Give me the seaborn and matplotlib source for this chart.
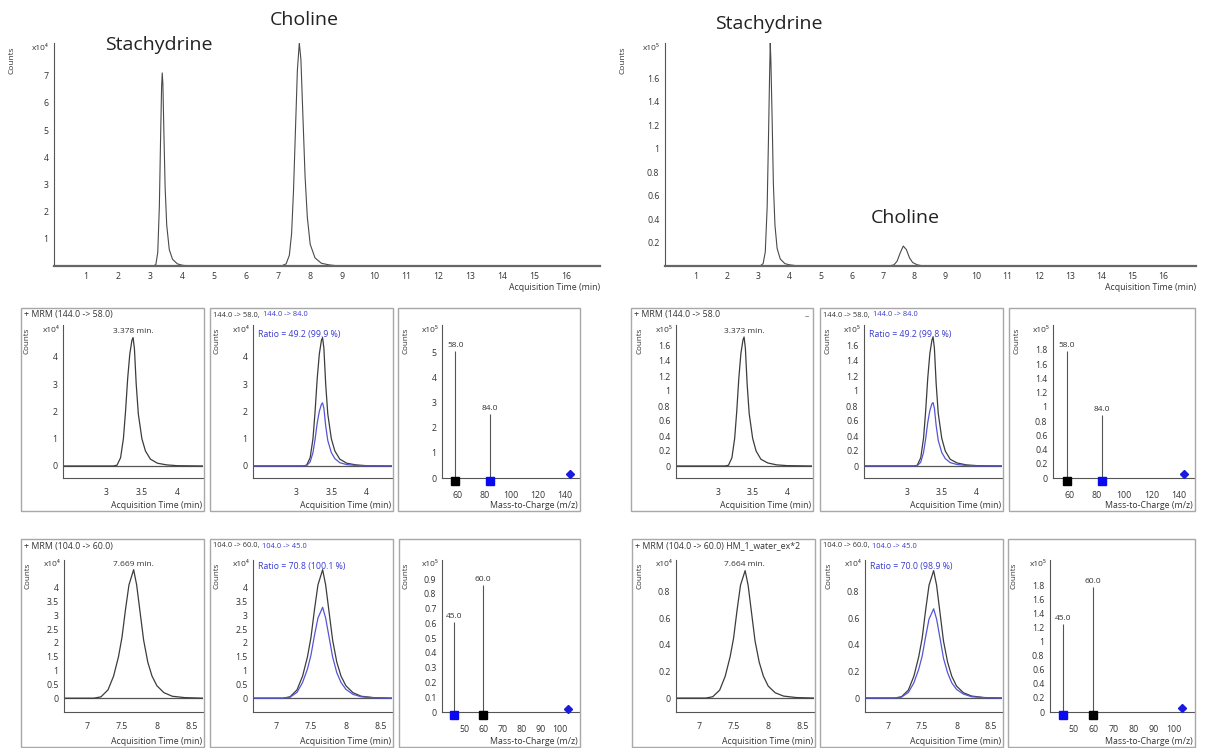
import matplotlib
matplotlib.use("Agg")
import matplotlib.pyplot as plt
from matplotlib.patches import Rectangle
from matplotlib.transforms import ScaledTranslation
import pandas as pd
import seaborn as sns

# ---------------------------------------------------------------- data
# Overview chromatograms (sample A counts x10^4, sample B counts x10^5)
tic_time_a = [0, 3.10, 3.18, 3.24, 3.29, 3.33, 3.36, 3.38, 3.40, 3.43, 3.47, 3.52, 3.60,
              3.70, 3.85, 4.0, 4.2, 7.10, 7.25, 7.35, 7.42, 7.48, 7.54, 7.60, 7.66, 7.71,
              7.77, 7.84, 7.91, 8.0, 8.15, 8.35, 8.6, 8.9, 17.05]
tic_counts_a = [0, 0, 0.05, 0.5, 2.2, 4.8, 6.6, 7.1, 6.7, 5.0, 2.9, 1.5, 0.6,
                0.25, 0.08, 0.03, 0, 0, 0.08, 0.4, 1.2, 2.8, 5.0, 7.2, 8.2, 7.6,
                5.6, 3.3, 1.8, 0.8, 0.3, 0.1, 0.04, 0, 0]
tic_time_b = [0, 3.05, 3.15, 3.22, 3.28, 3.32, 3.36, 3.38, 3.40, 3.44, 3.48, 3.53, 3.60,
              3.70, 3.85, 4.0, 4.3, 7.20, 7.35, 7.45, 7.55, 7.65, 7.75, 7.85, 7.95, 8.1,
              8.3, 17.05]
tic_counts_b = [0, 0, 0.02, 0.12, 0.5, 1.05, 1.65, 1.9, 1.75, 1.25, 0.7, 0.35, 0.15,
                0.06, 0.02, 0.01, 0, 0, 0.01, 0.04, 0.11, 0.17, 0.14, 0.07, 0.03, 0.01,
                0, 0]

# Stachydrine window: 144.0 -> 58.0 (quantifier) and 144.0 -> 84.0 (qualifier)
stach_time = [2.39, 3.10, 3.15, 3.20, 3.24, 3.27, 3.30, 3.33, 3.36, 3.376, 3.395, 3.42,
              3.45, 3.50, 3.55, 3.62, 3.72, 3.85, 4.0, 4.36]
stach_58_a = [0, 0, 0.03, 0.3, 1.0, 2.0, 3.2, 4.1, 4.6, 4.7, 4.3, 3.0,
              1.9, 1.0, 0.55, 0.25, 0.10, 0.04, 0.01, 0]
stach_84_a = [0, 0, 0.015, 0.15, 0.49, 0.98, 1.57, 2.0, 2.26, 2.31, 2.11, 1.47,
              0.93, 0.49, 0.27, 0.12, 0.05, 0.02, 0, 0]
stach_58_b = [0, 0, 0.01, 0.11, 0.37, 0.73, 1.17, 1.50, 1.68, 1.72, 1.57, 1.10,
              0.70, 0.37, 0.20, 0.09, 0.04, 0.015, 0.005, 0]
stach_84_b = [0, 0, 0.005, 0.05, 0.18, 0.36, 0.58, 0.74, 0.83, 0.846, 0.77, 0.54,
              0.34, 0.18, 0.10, 0.045, 0.02, 0.007, 0, 0]

# Choline window: 104.0 -> 60.0 (quantifier) and 104.0 -> 45.0 (qualifier)
chol_time = [6.67, 7.10, 7.20, 7.30, 7.38, 7.45, 7.50, 7.55, 7.60, 7.667, 7.71, 7.76,
             7.81, 7.87, 7.93, 8.00, 8.10, 8.22, 8.40, 8.66]
chol_60_a = [0, 0, 0.05, 0.3, 0.8, 1.5, 2.2, 3.2, 4.1, 4.65, 4.1, 3.1,
             2.1, 1.3, 0.8, 0.45, 0.2, 0.07, 0.02, 0]
chol_45_a = [0, 0, 0.035, 0.21, 0.57, 1.06, 1.56, 2.27, 2.9, 3.29, 2.9, 2.2,
             1.49, 0.92, 0.57, 0.32, 0.14, 0.05, 0.014, 0]
chol_60_b = [0, 0, 0.01, 0.06, 0.165, 0.31, 0.45, 0.66, 0.85, 0.96, 0.85, 0.64,
             0.43, 0.27, 0.165, 0.09, 0.04, 0.015, 0.004, 0]
chol_45_b = [0, 0, 0.007, 0.042, 0.115, 0.217, 0.315, 0.46, 0.595, 0.672, 0.595, 0.45,
             0.30, 0.19, 0.115, 0.065, 0.03, 0.01, 0.003, 0]

stach_rt = ["3.378", "3.373"]
chol_rt = ["7.669", "7.664"]
stach_ratio = ["49.2 (99.9 %)", "49.2 (99.8 %)"]
chol_ratio = ["70.8 (100.1 %)", "70.0 (98.9 %)"]

# MRM product-ion spectra (counts x10^5)
stach_mz = [58.0, 84.0]
stach_ms_a = [5.05, 2.55]
stach_ms_b = [1.78, 0.88]
stach_precursor = 144.0
stach_prec_ht = [0.14, 0.06]
chol_mz = [60.0, 45.0]
chol_ms_a = [0.86, 0.61]
chol_ms_b = [1.78, 1.26]
chol_precursor = 104.0
chol_prec_ht = [0.02, 0.06]

overview_xticks = list(range(1, 17))

# ---------------------------------------------------------------- style
sns.set_theme(style="white")
plt.rcParams["font.family"] = ["Open Sans", "DejaVu Sans"]
TXT = "#333333"
BLK = "#3c3c3c"
BLU = "#5555d8"
BLU_TXT = "#3a3ad0"
BOX = "#a8a8a8"
FS = 6.3

W, H = 1210, 748
fig = plt.figure(figsize=(W / 100, H / 100), dpi=100)
renderer = fig.canvas.get_renderer()


def add_ax(x0, y0, x1, y1):
    return fig.add_axes([x0 / W, 1 - y1 / H, (x1 - x0) / W, (y1 - y0) / H])


def ftext(x, y, s, **kw):
    kw.setdefault("color", TXT)
    return fig.text(x / W, 1 - y / H, s, **kw)


def fmt(v):
    return f"{v:g}"


def style_axes(ax, labelsize=FS, xpad=4.0):
    for side in ("top", "right"):
        ax.spines[side].set_visible(False)
    for side in ("left", "bottom"):
        ax.spines[side].set_color("#555555")
        ax.spines[side].set_linewidth(0.8)
    ax.tick_params(axis="both", direction="out", length=2.5, width=0.6, color="#555555",
                   labelsize=labelsize, labelcolor=TXT, pad=1.5)
    ax.tick_params(axis="x", length=3.5, pad=xpad)
    ax.set_facecolor("none")
    ax.set_xlabel("")
    ax.set_ylabel("")


def trace(ax, t, y, color, lw=0.9):
    df = pd.DataFrame({"t": t, "y": y})
    sns.lineplot(data=df, x="t", y="y", ax=ax, color=color, lw=lw,
                 sort=False, estimator=None)


# ---------------------------------------------------------------- overview chromatograms
def overview(x0, x1, t, y, ylim, yticks, exp, labels):
    ax = add_ax(x0, 43, x1, 266)
    trace(ax, t, y, "#4a4a4a", lw=0.8)
    ax.set_xlim(0, 17.05)
    ax.set_ylim(*ylim)
    style_axes(ax, labelsize=6.3, xpad=1.0)
    ax.tick_params(axis="x", length=3.0)
    ax.spines["bottom"].set_linewidth(1.6)
    ax.spines["bottom"].set_color("#666666")
    ax.set_xticks(overview_xticks)
    ax.set_yticks(yticks)
    ax.set_yticklabels([fmt(v) for v in yticks])
    ftext(x1, 288, "Acquisition Time (min)", ha="right", va="center", fontsize=6.3)
    ftext(x0 - 42, 60, "Counts", rotation=90, ha="center", va="center", fontsize=6)
    ftext(x0 - 5, 49, f"x10{exp}", ha="right", va="center", fontsize=6)
    for name, px, py in labels:
        ftext(px, py, name, ha="center", va="center", fontsize=14, color="#222222")
    return ax


overview(54, 600, tic_time_a, tic_counts_a, (0, 8.2), [1, 2, 3, 4, 5, 6, 7], "⁴",
         [("Stachydrine", 159, 45), ("Choline", 304, 20)])
overview(665, 1196, tic_time_b, tic_counts_b, (0, 1.9),
         [0.2, 0.4, 0.6, 0.8, 1.0, 1.2, 1.4, 1.6], "⁵",
         [("Stachydrine", 769, 24), ("Choline", 905, 218)])


# ---------------------------------------------------------------- detail panels
def box(x0, y0, x1, y1):
    fig.patches.append(Rectangle((x0 / W, 1 - y1 / H), (x1 - x0) / W, (y1 - y0) / H,
                                 transform=fig.transFigure, fill=False,
                                 edgecolor=BOX, lw=1.0))


def panel_frame(bx0, bx1, by0, by1, axx, axtop, axbot, exp, xlabel):
    box(bx0, by0, bx1, by1)
    ax = add_ax(axx, axtop, bx1 - 1, axbot)
    ftext(axx - 36, axtop + 16, "Counts", rotation=90, ha="center", va="center",
          fontsize=5.8)
    ftext(axx - 3, axtop + 5, f"x10{exp}", ha="right", va="center", fontsize=6)
    ftext(bx1 - 2, by1 - 6, xlabel, ha="right", va="center", fontsize=FS)
    return ax


def chrom_panel(bx0, bx1, by0, by1, axx, axtop, axbot, xlim, ylim, xticks, xticklabels,
                yticks, exp, t, series, colors):
    ax = panel_frame(bx0, bx1, by0, by1, axx, axtop, axbot, exp, "Acquisition Time (min)")
    ax.axhline(0, color="#555555", lw=0.9)
    for y, c in zip(series, colors):
        trace(ax, t, y, c)
    ax.set_xlim(*xlim)
    ax.set_ylim(*ylim)
    style_axes(ax)
    ax.set_xticks(xticks)
    ax.set_xticklabels(xticklabels)
    ax.set_yticks(yticks)
    ax.set_yticklabels([fmt(v) for v in yticks])
    return ax


def spectrum_panel(bx0, bx1, by0, by1, axx, axtop, axbot, xlim, ylim, xticks, yticks,
                   exp, mz, counts, colors, precursor, prec_ht):
    ax = panel_frame(bx0, bx1, by0, by1, axx, axtop, axbot, exp, "Mass-to-Charge (m/z)")
    ax.vlines(mz, 0, counts, color="#555555", lw=0.8)
    for m, c in zip(mz, counts):
        ax.annotate(f"{m:.1f}", (m, c), xytext=(0, 1.5), textcoords="offset points",
                    ha="center", va="bottom", fontsize=6, color=TXT)
    below = ax.transData + ScaledTranslation(0, -3 / 100, fig.dpi_scale_trans)
    for m, col in zip(mz, colors):
        ax.plot([m], [0], marker="s", ms=5.5, color=col, ls="none",
                transform=below, clip_on=False, zorder=5)
    ax.plot([precursor], [prec_ht], marker="D", ms=4, color="#1a1ae0", ls="none",
            clip_on=False, zorder=5)
    ax.set_xlim(*xlim)
    ax.set_ylim(*ylim)
    style_axes(ax, xpad=5.5)
    ax.set_xticks(xticks)
    ax.set_xticklabels([fmt(v) for v in xticks])
    ax.set_yticks(yticks)
    ax.set_yticklabels([fmt(v) for v in yticks])
    return ax


def rt_label(ax, rt, dy):
    ax.annotate(f"{rt} min.", xy=(float(rt), 1.0), xycoords=("data", "axes fraction"),
                xytext=(0, dy), textcoords="offset points", ha="center", va="center",
                fontsize=6, color=TXT, annotation_clip=False)


def two_color_header(x_black, y, black, blue):
    t = ftext(x_black, y, black, ha="left", va="center", fontsize=5.4)
    bb = t.get_window_extent(renderer=renderer)
    ftext(bb.x1 + 3, y, blue, ha="left", va="center", fontsize=5.4, color=BLU_TXT)


MID = (308, 511, 325, 478)
BOT = (539, 747, 560, 712)
st_ticks = [2.5, 3, 3.5, 4]
st_labels = ["", "3", "3.5", "4"]
ch_ticks = [7, 7.5, 8, 8.5]
ch_labels = ["7", "7.5", "8", "8.5"]

groups = [
    # left sample
    dict(cx=[(21, 204, 63), (210, 393, 253), (398, 580, 442)],
         dx=[(21, 204, 64), (210, 393, 253), (399, 580, 442)],
         st=(stach_58_a, stach_84_a), st_ylim=(-0.44, 5.16), st_yt=[0, 1, 2, 3, 4],
         st_exp="⁴", ch=(chol_60_a, chol_45_a), ch_ylim=(-0.5, 5.0),
         ch_yt=[0, 0.5, 1, 1.5, 2, 2.5, 3, 3.5, 4], ch_exp="⁴",
         st_ms=stach_ms_a, st_ms_ylim=(0, 6.1), st_ms_yt=[0, 1, 2, 3, 4, 5],
         ch_ms=chol_ms_a, ch_ms_ylim=(0, 1.03),
         ch_ms_yt=[0, 0.1, 0.2, 0.3, 0.4, 0.5, 0.6, 0.7, 0.8, 0.9],
         idx=0, st_head="+ MRM (144.0 -> 58.0)", ch_head="+ MRM (104.0 -> 60.0)"),
    # right sample
    dict(cx=[(631, 813, 676), (820, 1003, 864), (1009, 1195, 1053)],
         dx=[(632, 815, 676), (820, 1003, 865), (1008, 1195, 1050)],
         st=(stach_58_b, stach_84_b), st_ylim=(-0.16, 1.88),
         st_yt=[0, 0.2, 0.4, 0.6, 0.8, 1, 1.2, 1.4, 1.6], st_exp="⁵",
         ch=(chol_60_b, chol_45_b), ch_ylim=(-0.105, 1.04),
         ch_yt=[0, 0.2, 0.4, 0.6, 0.8], ch_exp="⁴",
         st_ms=stach_ms_b, st_ms_ylim=(0, 2.15),
         st_ms_yt=[0, 0.2, 0.4, 0.6, 0.8, 1, 1.2, 1.4, 1.6, 1.8],
         ch_ms=chol_ms_b, ch_ms_ylim=(0, 2.17),
         ch_ms_yt=[0, 0.2, 0.4, 0.6, 0.8, 1, 1.2, 1.4, 1.6, 1.8],
         idx=1, st_head="+ MRM (144.0 -> 58.0", ch_head="+ MRM (104.0 -> 60.0) HM_1_water_ex*2"),
]

for g in groups:
    i = g["idx"]
    by0, by1, at, ab = MID
    # quantifier transition, stachydrine
    (b0, b1, ax0) = g["cx"][0]
    ax = chrom_panel(b0, b1, by0, by1, ax0, at, ab, (2.39, 4.36), g["st_ylim"],
                     st_ticks, st_labels, g["st_yt"], g["st_exp"], stach_time,
                     [g["st"][0]], [BLK])
    rt_label(ax, stach_rt[i], -4.5)
    ftext(b0 + 3, by0 + 7, g["st_head"], ha="left", va="center", fontsize=FS)
    if i == 1:
        ftext(b1 - 6, by0 + 9, "–", ha="center", va="center", fontsize=6)
    # qualifier overlay, stachydrine
    (b0, b1, ax0) = g["cx"][1]
    chrom_panel(b0, b1, by0, by1, ax0, at, ab, (2.39, 4.36), g["st_ylim"],
                st_ticks, st_labels, g["st_yt"], g["st_exp"], stach_time,
                [g["st"][0], g["st"][1]], [BLK, BLU])
    two_color_header(b0 + 3, by0 + 7, "144.0 -> 58.0,", "144.0 -> 84.0")
    ftext(ax0 + 5, at + 9, f"Ratio = {stach_ratio[i]}", ha="left", va="center",
          fontsize=FS, color=BLU_TXT)
    # spectrum, stachydrine
    (b0, b1, ax0) = g["cx"][2]
    spectrum_panel(b0, b1, by0, by1, ax0, at, ab, (48, 151), g["st_ms_ylim"],
                   [60, 80, 100, 120, 140], g["st_ms_yt"], "⁵", stach_mz, g["st_ms"],
                   ["#000000", "#0a0af0"], stach_precursor, stach_prec_ht[i])

    by0, by1, at, ab = BOT
    # quantifier transition, choline
    (b0, b1, ax0) = g["dx"][0]
    ax = chrom_panel(b0, b1, by0, by1, ax0, at, ab, (6.67, 8.66), g["ch_ylim"],
                     ch_ticks, ch_labels, g["ch_yt"], g["ch_exp"], chol_time,
                     [g["ch"][0]], [BLK])
    rt_label(ax, chol_rt[i], -3.0)
    ftext(b0 + 3, by0 + 7, g["ch_head"], ha="left", va="center", fontsize=FS)
    # qualifier overlay, choline
    (b0, b1, ax0) = g["dx"][1]
    chrom_panel(b0, b1, by0, by1, ax0, at, ab, (6.67, 8.66), g["ch_ylim"],
                ch_ticks, ch_labels, g["ch_yt"], g["ch_exp"], chol_time,
                [g["ch"][0], g["ch"][1]], [BLK, BLU])
    two_color_header(b0 + 3, by0 + 7, "104.0 -> 60.0,", "104.0 -> 45.0")
    ftext(ax0 + 5, at + 6, f"Ratio = {chol_ratio[i]}", ha="left", va="center",
          fontsize=FS, color=BLU_TXT)
    # spectrum, choline
    (b0, b1, ax0) = g["dx"][2]
    spectrum_panel(b0, b1, by0, by1, ax0, at, ab, (38.5, 110), g["ch_ms_ylim"],
                   [50, 60, 70, 80, 90, 100], g["ch_ms_yt"], "⁵", chol_mz, g["ch_ms"],
                   ["#000000", "#0a0af0"], chol_precursor, chol_prec_ht[i])

fig.savefig("out.png", dpi=100, facecolor="white")
